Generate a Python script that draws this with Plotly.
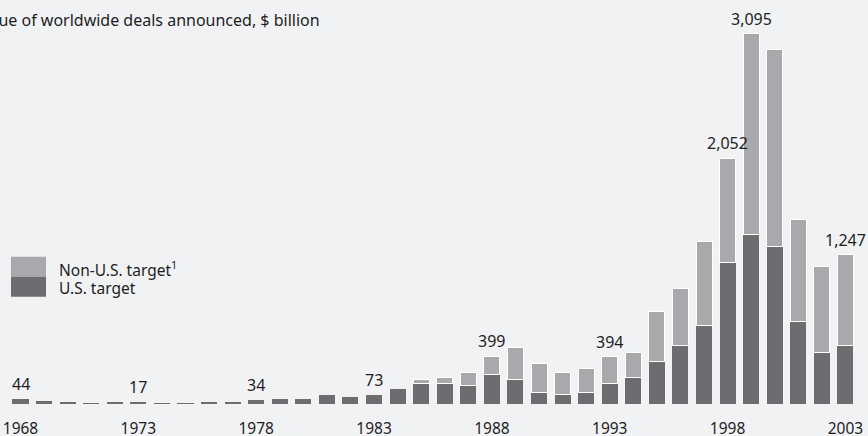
import plotly.graph_objects as go

# ---- data ----
years = list(range(1968, 2004))
us_target = [44, 23, 16, 6, 17, 17, 5, 6, 18, 20, 34, 38, 38, 76, 60, 73, 122,
             169, 174, 155, 246, 205, 96, 77, 96, 169, 224, 355, 491, 656,
             1185, 1414, 1316, 692, 430, 489]
non_us_target = [None] * 17 + [36, 47, 108, 153, 270, 242, 186, 201, 225, 206,
                               418, 474, 702, 867, 1681, 1646, 849, 719, 758]
label_years = [1968, 1973, 1978, 1983, 1988, 1993, 1998, 1999, 2003]
tick_years = [1968, 1973, 1978, 1983, 1988, 1993, 1998, 2003]
title_text = "Value of worldwide deals announced, $ billion"
legend_names = ["Non-U.S. target<sup>1</sup>", "U.S. target"]

# ---- styling ----
BG = "#f1f2f4"
DARK = "#6c6d71"
LIGHT = "#a8a9ac"
TXT = "#1e1e1e"
FONT = "Noto Sans"

W, H = 868, 436
ML, MR, MT, MB = 0, 0, 0, 32
plot_h = H - MT - MB

totals = {y: u + (n or 0) for y, u, n in zip(years, us_target, non_us_target)}

fig = go.Figure()
fig.add_trace(go.Bar(x=years, y=us_target, name="U.S. target",
                     marker=dict(color=DARK, line=dict(width=0)),
                     width=0.68, showlegend=False, hoverinfo="skip"))
fig.add_trace(go.Bar(x=years, y=non_us_target, name="Non-U.S. target",
                     marker=dict(color=LIGHT, line=dict(width=1, color="#ffffff")),
                     width=0.68, showlegend=False, hoverinfo="skip"))

def px_to_py(p):
    return (H - MB - p) / plot_h

def px_to_px(p):
    return p / W

shapes = [
    dict(type="rect", xref="paper", yref="paper",
         x0=px_to_px(11), x1=px_to_px(46), y0=px_to_py(276.7), y1=px_to_py(256.7),
         fillcolor=LIGHT, line=dict(width=0)),
    dict(type="rect", xref="paper", yref="paper",
         x0=px_to_px(11), x1=px_to_px(46), y0=px_to_py(296.7), y1=px_to_py(276.7),
         fillcolor=DARK, line=dict(width=0)),
]

annotations = [
    dict(text=title_text, xref="paper", yref="paper", x=0, y=1,
         xanchor="left", yanchor="top", xshift=-26, yshift=-7, showarrow=False,
         font=dict(family=FONT, size=16, color=TXT)),
    dict(text=legend_names[0], xref="paper", yref="paper", x=px_to_px(57),
         y=px_to_py(269), xanchor="left", yanchor="middle", showarrow=False,
         font=dict(family=FONT, size=15.5, color=TXT)),
    dict(text=legend_names[1], xref="paper", yref="paper", x=px_to_px(57),
         y=px_to_py(287.5), xanchor="left", yanchor="middle", showarrow=False,
         font=dict(family=FONT, size=15.5, color=TXT)),
]
for y in label_years:
    annotations.append(dict(text=f"{totals[y]:,}", x=y, y=totals[y],
                            xref="x", yref="y", xanchor="center", yanchor="bottom",
                            yshift=2, showarrow=False,
                            font=dict(family=FONT, size=16, color=TXT)))

x0 = 1968 - 20.5 / 23.57
x1 = 1968 + (W - 20.5) / 23.57

fig.update_layout(
    width=W, height=H, autosize=False,
    margin=dict(l=ML, r=MR, t=MT, b=MB, pad=0),
    paper_bgcolor=BG, plot_bgcolor=BG,
    barmode="stack", bargap=0.3,
    showlegend=False,
    shapes=shapes, annotations=annotations,
    xaxis=dict(range=[x0, x1], tickvals=tick_years,
               ticktext=[str(y) for y in tick_years],
               tickfont=dict(family=FONT, size=15.5, color=TXT),
               ticks="outside", ticklen=10, tickcolor="rgba(0,0,0,0)",
               showgrid=False, zeroline=False, showline=False, automargin=False,
               fixedrange=True),
    yaxis=dict(range=[0, 404 / 0.1197], visible=False, showgrid=False,
               zeroline=False, automargin=False, fixedrange=True),
    font=dict(family=FONT, color=TXT),
)

fig.write_html("out.html", config={"displayModeBar": False},
               post_script="document.body.style.margin='0';document.body.style.background='" + BG + "';")
